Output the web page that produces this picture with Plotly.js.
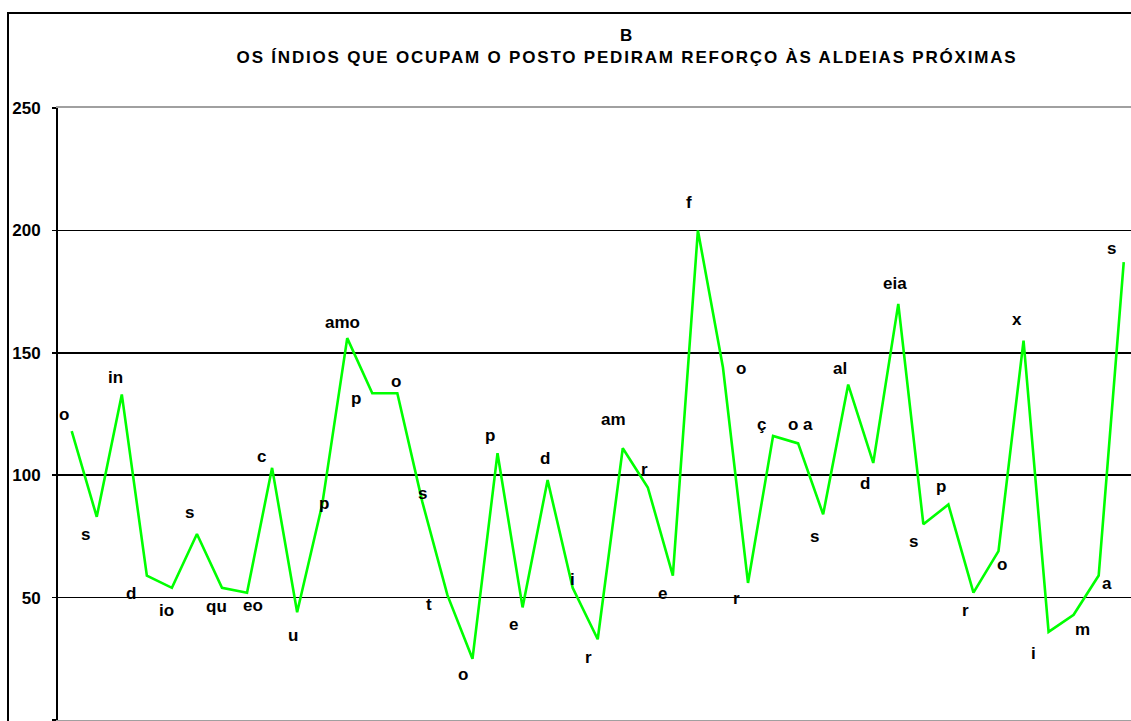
<!DOCTYPE html>
<html>
<head>
<meta charset="utf-8">
<script src="https://cdn.plot.ly/plotly-3.0.1.min.js"></script>
<style>
  html, body { margin: 0; padding: 0; background: #fff; overflow: hidden; }
  #chart { position: absolute; left: 0; top: 0; width: 1131px; height: 721px; }
  #frame { position: absolute; left: 7px; top: 12px; width: 3000px; height: 3000px;
           border-left: 2px solid #000; border-top: 2px solid #000; pointer-events: none; }
  .gtitle { letter-spacing: 1.8px; }
</style>
</head>
<body>
<div id="chart"></div>
<div id="frame"></div>
<script>
// Data
const labels = ["o","s","in","d","io","s","qu","eo","c","u","p","amo","p","o","s","t","o","p","e","d",
                "i","r","am","r","e","f","o","r","ç","o a","s","al","d","eia","s","p","r","o","x","i",
                "m","a","s"];
const values = [118,83,133,59,54,76,54,52,103,44,88,156,133.5,133.5,89,51,25,109,46,98,
                54,33,111,95,59,200,144,56,116,113,84,137,105,170,80,88,52,69,155,36,
                43,59,187];
const yTicks = [0,50,100,150,200,250];
// Label offsets (pixels) relative to their point: [dx, dy] (dy positive = down)
const labelOffsets = [[-8,-18],[-11,17],[-6,-18],[-16,17],[-5,22],[-7,-22],[-5,18],[6,12],[-11,-12],[-4,22],
                      [2,-2],[-5,-17],[-16,4],[-1,-13],[0,-10],[-18,8],[-9,15],[-8,-19],[-9,16],[-3,-23],
                      [0,-9],[-9,17],[-9,-30],[-3,-19],[-10,17],[-9,-29],[18,0],[-12,15],[-12,-13],[2,-20],
                      [-9,21],[-8,-17],[-8,20],[-3,-21],[-10,16],[-7,-19],[-8,17],[4,12],[-7,-22],[-15,21],
                      [9,14],[8,7],[-12,-15]];

const FONT = "Liberation Sans, Arial, Helvetica, sans-serif";
const xs = values.map((v, i) => i);

const trace = {
  type: "scatter",
  mode: "lines",
  x: xs,
  y: values,
  line: { color: "#00ff00", width: 2.6 },
  hoverinfo: "skip",
  showlegend: false
};

const annotations = labels.map((t, i) => ({
  x: xs[i], y: values[i], xref: "x", yref: "y",
  text: t, showarrow: false,
  xanchor: "center", yanchor: "middle",
  xshift: labelOffsets[i][0], yshift: -labelOffsets[i][1] - 1,
  font: { family: FONT, size: 17, color: "#000", weight: 700 }
}));

const layout = {
  width: 1131, height: 721,
  paper_bgcolor: "#ffffff", plot_bgcolor: "#ffffff",
  margin: { l: 58, r: 0, t: 108, b: 1, pad: 0 },
  title: {
    text: "B<br>OS ÍNDIOS QUE OCUPAM O POSTO PEDIRAM REFORÇO ÀS ALDEIAS PRÓXIMAS",
    font: { family: FONT, size: 17, color: "#000", weight: 700 },
    x: 627 / 1131, xanchor: "center", xref: "container",
    y: 1 - 41 / 721, yanchor: "top", yref: "container"
  },
  xaxis: {
    range: [-0.547, 42.29],
    showgrid: false, zeroline: false, showticklabels: false, ticks: "",
    showline: true, linecolor: "#a0a0a0", linewidth: 2, mirror: true,
    fixedrange: true
  },
  yaxis: {
    range: [0, 250],
    tickvals: yTicks, ticktext: yTicks.map(String),
    showgrid: true, gridcolor: "#000", gridwidth: 1.5,
    zeroline: false,
    showline: true, linecolor: "#000", linewidth: 2,
    ticks: "outside", ticklen: 4, tickcolor: "#000", tickwidth: 1.5,
    ticklabelstandoff: 8,
    tickfont: { family: FONT, size: 17, color: "#000", weight: 700 },
    fixedrange: true
  },
  annotations: annotations,
  showlegend: false
};

Plotly.newPlot("chart", [trace], layout, { displayModeBar: false, staticPlot: true });
</script>
</body>
</html>
